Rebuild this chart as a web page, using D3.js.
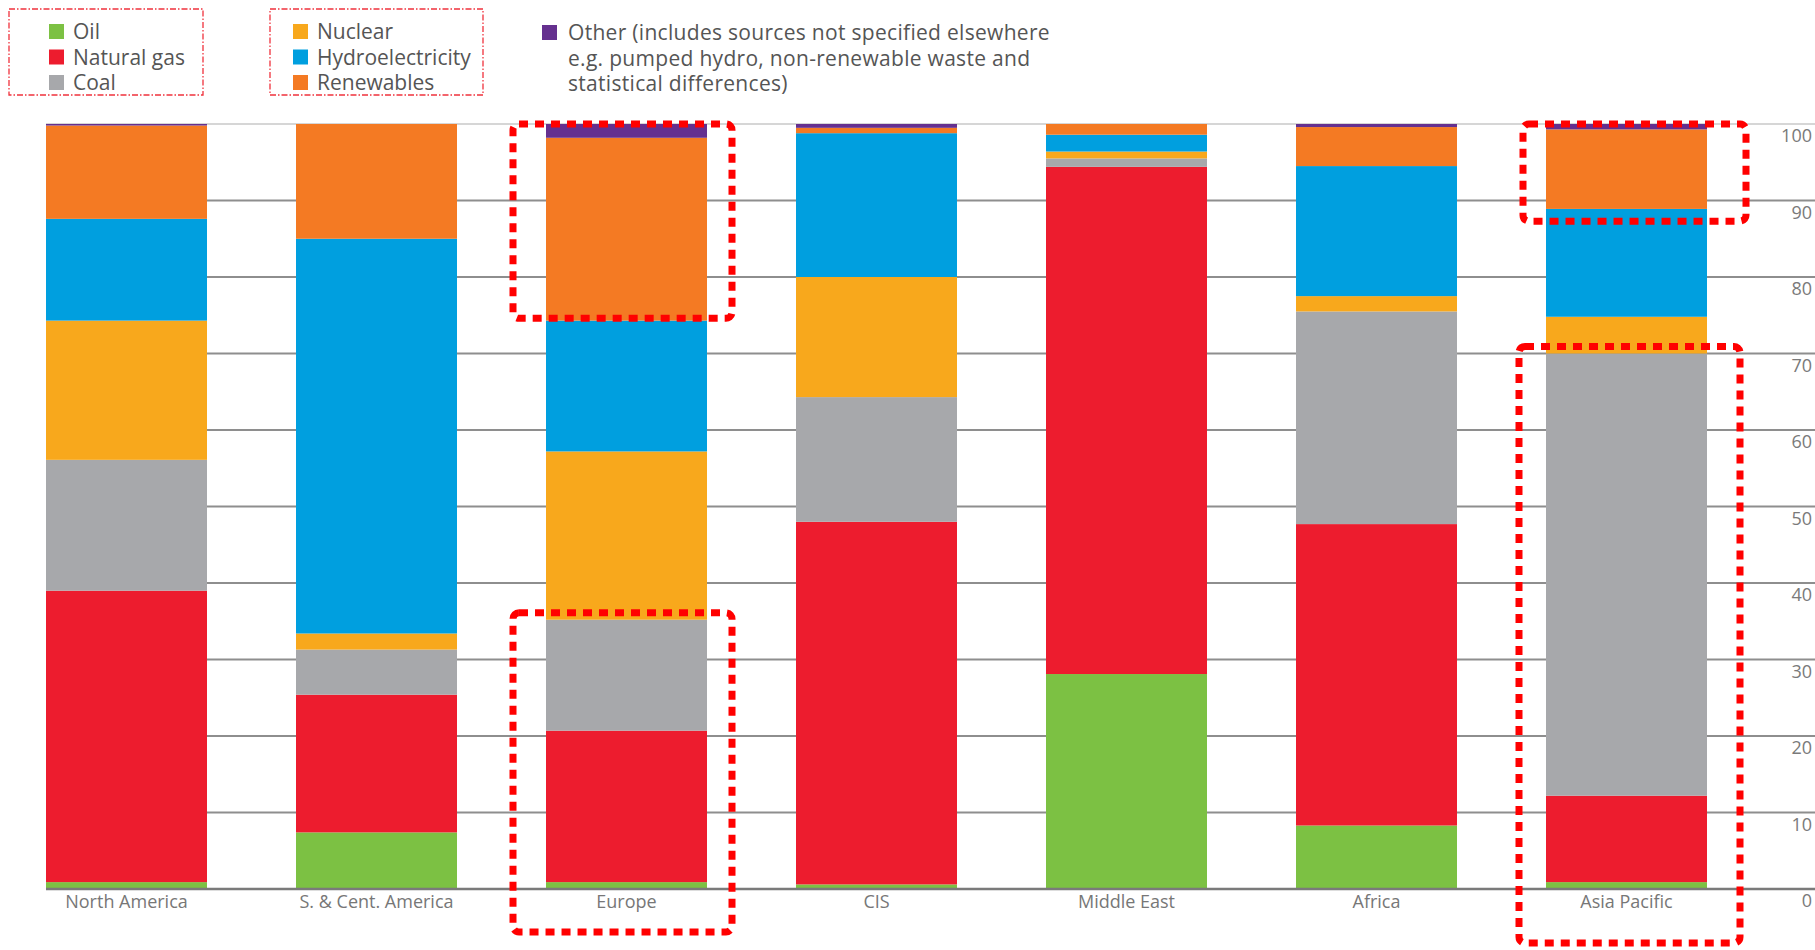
<!DOCTYPE html>
<html>
<head>
<meta charset="utf-8">
<script src="https://cdn.jsdelivr.net/npm/d3@7"></script>
<style>
  body { margin: 0; background: #fff; }
  text { font-family: "Open Sans", "Liberation Sans", sans-serif; }
</style>
</head>
<body>
<div id="chart"></div>
<script>
// Regions (x categories)
let regions = ['North America', 'S. & Cent. America', 'Europe', 'CIS', 'Middle East', 'Africa', 'Asia Pacific'];

// Fuel shares (%) per region, bottom to top
let oil         = [0.9,  7.4,  0.9,  0.6, 28.1,  8.3,  0.9];
let naturalGas  = [38.1, 18.0, 19.8, 47.4, 66.3, 39.4, 11.3];
let coal        = [17.1, 5.9,  14.5, 16.3, 1.1, 27.8, 57.8];
let nuclear     = [18.2, 2.1,  22.0, 15.7, 0.9,  2.0,  4.8];
let hydro       = [13.3, 51.6, 17.1, 18.8, 2.2, 17.0, 14.1];
let renewables  = [12.2, 15.0, 23.9, 0.7,  1.4,  5.1, 10.4];
let other       = [0.2,  0.0,  1.8,  0.5,  0.0,  0.4,  0.7];

let yTicks = [0, 10, 20, 30, 40, 50, 60, 70, 80, 90, 100];

let fuelKeys = ['Oil', 'Natural gas', 'Coal', 'Nuclear', 'Hydroelectricity', 'Renewables', 'Other'];
let fuelColors = ['#7cc143', '#ed1c2e', '#a7a8ab', '#f8a81c', '#009fdf', '#f47a23', '#65308f'];
let otherLabel = ['Other (includes sources not specified elsewhere',
                  'e.g. pumped hydro, non-renewable waste and',
                  'statistical differences)'];

// highlighted areas in the source (region, value range)
let highlights = [
    { region: 'Europe', from: 74.6, to: 100, padL: 33, padR: 25, below: 0 },
    { region: 'Europe', from: 0, to: 36.1, padL: 33, padR: 25, below: 43 },
    { region: 'Asia Pacific', from: 87.3, to: 100, padL: 23, padR: 39, below: 0 },
    { region: 'Asia Pacific', from: 0, to: 70.9, padL: 27, padR: 33, below: 54 }
];

let svgWidth = 1815;
let svgHeight = 950;

let svg = d3.select('#chart')
    .append('svg')
    .attr('width', svgWidth)
    .attr('height', svgHeight);

// build a table for the stack
let series = [oil, naturalGas, coal, nuclear, hydro, renewables, other];
let table = regions.map((r, i) => {
    let row = { region: r };
    fuelKeys.forEach((k, j) => row[k] = series[j][i]);
    return row;
});

let xScale = d3.scaleBand()
    .domain(regions)
    .range([46, 1707])
    .paddingInner(0.356)
    .paddingOuter(0);

let yScale = d3.scaleLinear()
    .domain([0, 100])
    .range([889, 124]);

let color = d3.scaleOrdinal().domain(fuelKeys).range(fuelColors);

// gridlines
svg.append('g')
    .selectAll('line')
    .data(yTicks.filter(d => d > 0))
    .enter()
    .append('line')
    .attr('x1', 46)
    .attr('x2', svgWidth)
    .attr('y1', d => yScale(d))
    .attr('y2', d => yScale(d))
    .attr('stroke', d => d === 100 ? '#c9c9c9' : '#8e8e8e')
    .attr('stroke-width', d => d === 100 ? 1.5 : 2);

// stacked bars
let stacked = d3.stack().keys(fuelKeys)(table);

svg.append('g')
    .selectAll('g')
    .data(stacked)
    .enter()
    .append('g')
    .attr('fill', d => color(d.key))
    .selectAll('rect')
    .data(d => d)
    .enter()
    .append('rect')
    .attr('x', d => xScale(d.data.region))
    .attr('width', xScale.bandwidth())
    .attr('y', d => yScale(d[1]))
    .attr('height', d => yScale(d[0]) - yScale(d[1]));

// baseline
svg.append('line')
    .attr('x1', 46)
    .attr('x2', svgWidth)
    .attr('y1', yScale(0))
    .attr('y2', yScale(0))
    .attr('stroke', '#7a7a7a')
    .attr('stroke-width', 2.5);

// x axis labels
let xAxis = svg.append('g')
    .attr('transform', `translate(0, ${yScale(0)})`)
    .call(d3.axisBottom(xScale).tickSize(0).tickPadding(6));
xAxis.select('.domain').remove();
xAxis.selectAll('text')
    .attr('font-size', 18)
    .attr('fill', '#777')
    .style('font-family', '"Open Sans", "Liberation Sans", sans-serif');

// y axis on the right, labels sit just under each gridline
let yAxis = svg.append('g')
    .attr('transform', 'translate(1812, 12)')
    .call(d3.axisLeft(yScale).tickValues(yTicks).tickSize(0).tickPadding(0));
yAxis.select('.domain').remove();
yAxis.selectAll('text')
    .attr('font-size', 18)
    .attr('fill', '#7a7a7a')
    .style('font-family', '"Open Sans", "Liberation Sans", sans-serif');

// legend
let legend = svg.append('g');
let legendGroups = [
    { keys: fuelKeys.slice(0, 3), x: 49, box: [9, 9, 194, 86] },
    { keys: fuelKeys.slice(3, 6), x: 293, box: [270, 9, 213, 86] }
];
legendGroups.forEach(grp => {
    legend.append('rect')
        .attr('x', grp.box[0])
        .attr('y', grp.box[1])
        .attr('width', grp.box[2])
        .attr('height', grp.box[3])
        .attr('fill', 'none')
        .attr('stroke', '#f0323c')
        .attr('stroke-width', 1.3)
        .attr('stroke-dasharray', '6,2,1.5,2');
    grp.keys.forEach((k, i) => {
        let cy = 32 + i * 25.5;
        legend.append('rect')
            .attr('x', grp.x)
            .attr('y', cy - 8)
            .attr('width', 15)
            .attr('height', 15)
            .attr('fill', color(k));
        legend.append('text')
            .attr('x', grp.x + 24)
            .attr('y', cy + 7)
            .attr('font-size', 21)
            .attr('fill', '#555')
            .text(k);
    });
});
legend.append('rect')
    .attr('x', 542)
    .attr('y', 25)
    .attr('width', 15)
    .attr('height', 15)
    .attr('fill', color('Other'));
otherLabel.forEach((line, i) => {
    legend.append('text')
        .attr('x', 568)
        .attr('y', 40 + i * 25.5)
        .attr('font-size', 21)
        .attr('letter-spacing', 0.3)
        .attr('fill', '#555')
        .text(line);
});

// red dotted highlight boxes
svg.append('g')
    .selectAll('rect')
    .data(highlights)
    .enter()
    .append('rect')
    .attr('x', d => xScale(d.region) - d.padL)
    .attr('width', d => xScale.bandwidth() + d.padL + d.padR)
    .attr('y', d => yScale(d.to))
    .attr('height', d => yScale(d.from) - yScale(d.to) + d.below)
    .attr('rx', 6)
    .attr('fill', 'none')
    .attr('stroke', '#ff0000')
    .attr('stroke-width', 7)
    .attr('stroke-dasharray', '9,7');
</script>
</body>
</html>
